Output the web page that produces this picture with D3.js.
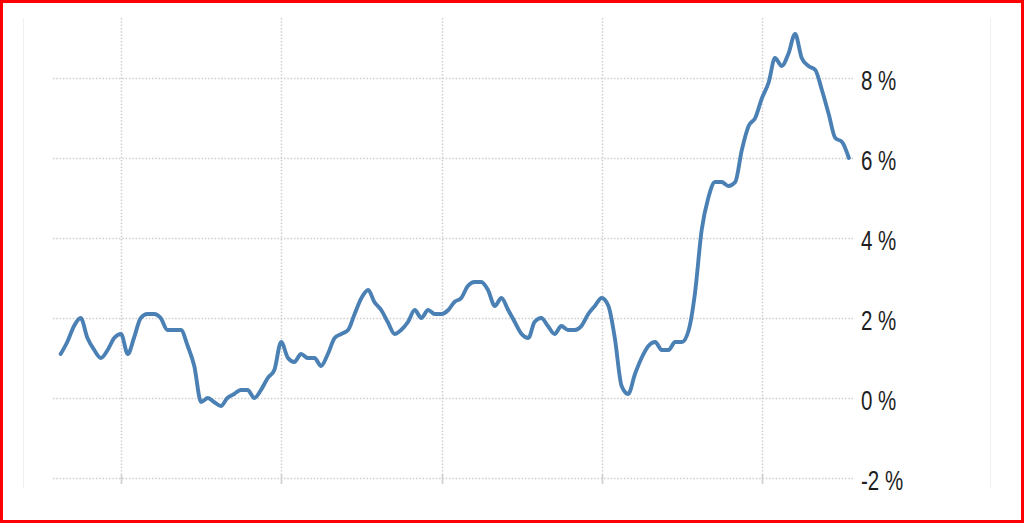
<!DOCTYPE html>
<html>
<head>
<meta charset="utf-8">
<script src="https://cdn.jsdelivr.net/npm/d3@7"></script>
<style>
  html, body { margin: 0; padding: 0; background: #fff; }
  svg { display: block; }
  .grid { stroke: #cdcdcd; stroke-width: 1.5; stroke-dasharray: 1.5,1.8; fill: none; }
  .tick-mark { stroke: #cfcfcf; stroke-width: 1.5; }
  .frame { stroke: #f0f0f0; stroke-width: 1; }
  .ylab { font-family: "Liberation Sans", Arial, sans-serif; font-size: 27px; fill: #1e1e1e; }
</style>
</head>
<body>
<svg id="chart" width="1024" height="523"></svg>
<script>
//////////////////// data ////////////////////

// monthly series, first value = April 2013
const startMonth = new Date(2013, 3, 1);
const values = [
  1.1, 1.4, 1.8, 2.0, 1.5, 1.2, 1.0, 1.2, 1.5,                      // 2013 Apr-Dec
  1.6, 1.1, 1.5, 2.0, 2.1, 2.1, 2.0, 1.7, 1.7, 1.7, 1.3, 0.8,       // 2014
  -0.1, 0.0, -0.1, -0.2, 0.0, 0.1, 0.2, 0.2, 0.0, 0.2, 0.5, 0.7,    // 2015
  1.4, 1.0, 0.9, 1.1, 1.0, 1.0, 0.8, 1.1, 1.5, 1.6, 1.7, 2.1,       // 2016
  2.5, 2.7, 2.4, 2.2, 1.9, 1.6, 1.7, 1.9, 2.2, 2.0, 2.2, 2.1,       // 2017
  2.1, 2.2, 2.4, 2.5, 2.8, 2.9, 2.9, 2.7, 2.3, 2.5, 2.2, 1.9,       // 2018
  1.6, 1.5, 1.9, 2.0, 1.8, 1.6, 1.8, 1.7, 1.7, 1.8, 2.1, 2.3,       // 2019
  2.5, 2.3, 1.5, 0.3, 0.1, 0.6, 1.0, 1.3, 1.4, 1.2, 1.2, 1.4,       // 2020
  1.4, 1.7, 2.6, 4.2, 5.0, 5.4, 5.4, 5.3, 5.4, 6.2, 6.8, 7.0,       // 2021
  7.5, 7.9, 8.5, 8.3, 8.6, 9.1, 8.5, 8.3, 8.2, 7.7, 7.1, 6.5,       // 2022
  6.4, 6.0                                                          // 2023 Jan-Feb
];
const xTickYears = [2014, 2016, 2018, 2020, 2022];
const yTicks = [-2, 0, 2, 4, 6, 8];

const series = values.map((v, i) => ({
  date: d3.timeMonth.offset(startMonth, i),
  value: v
}));

//////////////////// setup ////////////////////
const svg = d3.select('#chart');
const width = +svg.attr('width');
const height = +svg.attr('height');

// one year = ~80px, Jan 2014 at x=121
const x = d3.scaleTime()
  .domain([new Date(2014, 0, 1), new Date(2022, 0, 1)])
  .range([121, 762]);

const y = d3.scaleLinear()
  .domain([-2, 8])
  .range([478, 78]);

const gridLeft = 53, gridRight = 853;
const plotTop = 18, plotBottom = 484;

// faint plot frame
svg.append('line').attr('class', 'frame')
  .attr('x1', 23.5).attr('x2', 23.5).attr('y1', plotTop).attr('y2', 488);
svg.append('line').attr('class', 'frame')
  .attr('x1', 990.5).attr('x2', 990.5).attr('y1', plotTop).attr('y2', 488);

//_________________ gridlines
svg.append('g').selectAll('line')
  .data(yTicks)
  .enter().append('line')
  .attr('class', 'grid')
  .attr('x1', gridLeft).attr('x2', gridRight)
  .attr('y1', d => Math.round(y(d)) + 0.5)
  .attr('y2', d => Math.round(y(d)) + 0.5);

const vg = svg.append('g');
vg.selectAll('line.grid')
  .data(xTickYears)
  .enter().append('line')
  .attr('class', 'grid')
  .attr('x1', d => Math.round(x(new Date(d, 0, 1))) + 0.5)
  .attr('x2', d => Math.round(x(new Date(d, 0, 1))) + 0.5)
  .attr('y1', plotTop).attr('y2', plotBottom);
vg.selectAll('line.tick-mark')
  .data(xTickYears)
  .enter().append('line')
  .attr('class', 'tick-mark')
  .attr('x1', d => Math.round(x(new Date(d, 0, 1))) + 0.5)
  .attr('x2', d => Math.round(x(new Date(d, 0, 1))) + 0.5)
  .attr('y1', y(-2) - 4).attr('y2', plotBottom);

//_________________ y labels (right side)
svg.append('g').selectAll('text')
  .data(yTicks)
  .enter().append('text')
  .attr('class', 'ylab')
  .attr('transform', d => `translate(861,${y(d) + 12}) scale(0.76,1)`)
  .text(d => d + ' %');

//_________________ line
const line = d3.line()
  .x(d => x(d.date))
  .y(d => y(d.value))
  .curve(d3.curveMonotoneX);

svg.append('path')
  .datum(series)
  .attr('fill', 'none')
  .attr('stroke', '#4a80b4')
  .attr('stroke-width', 3.9)
  .attr('stroke-linejoin', 'round')
  .attr('stroke-linecap', 'round')
  .attr('d', line);

// red outer border
svg.append('rect')
  .attr('x', 1.5).attr('y', 1.5)
  .attr('width', width - 3).attr('height', height - 3)
  .attr('fill', 'none')
  .attr('stroke', '#ff0000')
  .attr('stroke-width', 3);
</script>
</body>
</html>
